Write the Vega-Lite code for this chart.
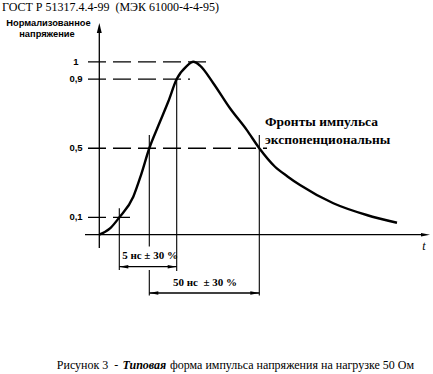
{
  "$schema": "https://vega.github.io/schema/vega-lite/v6.json",
  "width": 433,
  "height": 374,
  "autosize": "none",
  "padding": 0,
  "background": "white",
  "config": {"view": {"stroke": null}},
  "datasets": {
    "curve": [
      {"t": 0, "v": 0}, {"t": 1.07, "v": 0.036}, {"t": 2.0, "v": 0.1}, {"t": 3.4, "v": 0.22},
      {"t": 4.17, "v": 0.345}, {"t": 5.0, "v": 0.5}, {"t": 5.9, "v": 0.63}, {"t": 6.9, "v": 0.77},
      {"t": 7.74, "v": 0.9}, {"t": 8.74, "v": 0.975}, {"t": 9.4, "v": 1.0}, {"t": 10.07, "v": 0.978},
      {"t": 11.4, "v": 0.876}, {"t": 13.07, "v": 0.731}, {"t": 14.74, "v": 0.606}, {"t": 16.0, "v": 0.5},
      {"t": 17.57, "v": 0.393}, {"t": 18.82, "v": 0.337}, {"t": 20.07, "v": 0.287}, {"t": 23.4, "v": 0.182},
      {"t": 26.74, "v": 0.114}, {"t": 29.77, "v": 0.069}
    ],
    "axes": [
      {"t": 0, "t2": 0, "v": -0.077, "v2": 1.184},
      {"t": -1.43, "t2": 32.4, "v": 0, "v2": 0}
    ],
    "dashed": [
      {"t": -1.13, "t2": 11.07, "v": 1},
      {"t": -1.13, "t2": 9.07, "v": 0.9},
      {"t": -1.13, "t2": 16.77, "v": 0.5},
      {"t": -1.13, "t2": 3.07, "v": 0.1}
    ],
    "verticals": [
      {"t": 2.0, "v": 0.1527, "v2": -0.2042},
      {"t": 5.0, "v": 0.5766, "v2": -0.0682},
      {"t": 5.0, "v": -0.2042, "v2": -0.3516},
      {"t": 7.74, "v": 0.9063, "v2": -0.21},
      {"t": 16.0, "v": 0.5766, "v2": -0.3516}
    ],
    "dims": [
      {"t": 2.0, "t2": 7.74, "v": -0.1851},
      {"t": 5.0, "t2": 16.0, "v": -0.3372}
    ],
    "heads": [
      {"t": 0, "v": 1.2244, "dir": "U"},
      {"t": 33.07, "v": 0, "dir": "R"},
      {"t": 2.0, "v": -0.1851, "dir": "L"},
      {"t": 7.74, "v": -0.1851, "dir": "R"},
      {"t": 5.0, "v": -0.3372, "dir": "L"},
      {"t": 16.0, "v": -0.3372, "dir": "R"}
    ],
    "ylabels": [
      {"t": -2.33, "v": 1, "label": "1"},
      {"t": -2.33, "v": 0.9, "label": "0,9"},
      {"t": -2.33, "v": 0.5, "label": "0,5"},
      {"t": -2.33, "v": 0.1, "label": "0,1"}
    ],
    "ytitle": [
      {"t": -5.08, "v": 1.2227, "label": "Нормализованное"},
      {"t": -5.23, "v": 1.1620, "label": "напряжение"}
    ],
    "header": [
      {"t": -9.73, "v": 1.3169, "label": "ГОСТ Р 51317.4.4-99\u00a0\u00a0(МЭК 61000-4-4-95)"}
    ],
    "note": [
      {"t": 16.57, "v": 0.6536, "label": "Фронты импульса"},
      {"t": 16.57, "v": 0.5465, "label": "экспоненциональны"}
    ],
    "dimtext": [
      {"t": 5.07, "v": -0.1261, "label": "5 нс ± 30 %"},
      {"t": 10.57, "v": -0.2822, "label": "50 нс\u00a0\u00a0± 30 %"}
    ],
    "tlabel": [
      {"t": 32.47, "v": -0.0654, "label": "t"}
    ],
    "cap1": [
      {"t": 1.9, "v": -0.7536, "label": "Рисунок 3\u00a0\u00a0-"}
    ],
    "cap2": [
      {"t": 6.7, "v": -0.7536, "label": "Типовая"}
    ],
    "cap3": [
      {"t": 7.07, "v": -0.7536, "label": "форма импульса напряжения на нагрузке 50 Ом"}
    ]
  },
  "layer": [
    {
      "data": {"name": "axes"},
      "mark": {"type": "rule", "color": "black", "strokeWidth": 1.3},
      "encoding": {
        "x": {"field": "t", "type": "quantitative", "scale": {"domain": [-9.93, 33.37], "nice": false, "zero": false}, "axis": null},
        "x2": {"field": "t2"},
        "y": {"field": "v", "type": "quantitative", "scale": {"domain": [-0.8057, 1.3574], "nice": false, "zero": false}, "axis": null},
        "y2": {"field": "v2"}
      }
    },
    {
      "data": {"name": "dashed"},
      "mark": {"type": "rule", "color": "black", "strokeWidth": 1.3, "strokeDash": [18, 7]},
      "encoding": {
        "x": {"field": "t", "type": "quantitative"},
        "x2": {"field": "t2"},
        "y": {"field": "v", "type": "quantitative"}
      }
    },
    {
      "data": {"name": "verticals"},
      "mark": {"type": "rule", "color": "black", "strokeWidth": 1.1},
      "encoding": {
        "x": {"field": "t", "type": "quantitative"},
        "y": {"field": "v", "type": "quantitative"},
        "y2": {"field": "v2"}
      }
    },
    {
      "data": {"name": "dims"},
      "mark": {"type": "rule", "color": "black", "strokeWidth": 1.3},
      "encoding": {
        "x": {"field": "t", "type": "quantitative"},
        "x2": {"field": "t2"},
        "y": {"field": "v", "type": "quantitative"}
      }
    },
    {
      "data": {"name": "heads"},
      "mark": {"type": "point", "filled": true, "color": "black", "opacity": 1, "size": 81, "strokeWidth": 0},
      "encoding": {
        "x": {"field": "t", "type": "quantitative"},
        "y": {"field": "v", "type": "quantitative"},
        "shape": {"field": "dir", "type": "nominal", "legend": null,
          "scale": {"domain": ["U", "R", "L"], "range": ["M0,0L-0.55,2.2L0.55,2.2Z", "M0,0L-2,-0.38L-2,0.38Z", "M0,0L2,-0.38L2,0.38Z"]}}
      }
    },
    {
      "data": {"name": "curve"},
      "mark": {"type": "line", "color": "black", "strokeWidth": 2.4, "interpolate": "monotone"},
      "encoding": {
        "x": {"field": "t", "type": "quantitative"},
        "y": {"field": "v", "type": "quantitative"}
      }
    },
    {
      "data": {"name": "ylabels"},
      "mark": {"type": "text", "font": "Liberation Sans", "fontSize": 9.5, "fontWeight": "bold", "align": "center", "baseline": "middle", "color": "black"},
      "encoding": {
        "x": {"field": "t", "type": "quantitative"},
        "y": {"field": "v", "type": "quantitative"},
        "text": {"field": "label"}
      }
    },
    {
      "data": {"name": "ytitle"},
      "mark": {"type": "text", "font": "Liberation Sans", "fontSize": 9.3, "fontWeight": "bold", "align": "center", "baseline": "middle", "color": "black"},
      "encoding": {
        "x": {"field": "t", "type": "quantitative"},
        "y": {"field": "v", "type": "quantitative"},
        "text": {"field": "label"}
      }
    },
    {
      "data": {"name": "header"},
      "mark": {"type": "text", "font": "Liberation Serif", "fontSize": 12, "align": "left", "baseline": "middle", "color": "black"},
      "encoding": {
        "x": {"field": "t", "type": "quantitative"},
        "y": {"field": "v", "type": "quantitative"},
        "text": {"field": "label"}
      }
    },
    {
      "data": {"name": "note"},
      "mark": {"type": "text", "font": "Liberation Serif", "fontSize": 13.5, "fontWeight": "bold", "align": "left", "baseline": "middle", "color": "black"},
      "encoding": {
        "x": {"field": "t", "type": "quantitative"},
        "y": {"field": "v", "type": "quantitative"},
        "text": {"field": "label"}
      }
    },
    {
      "data": {"name": "dimtext"},
      "mark": {"type": "text", "font": "Liberation Serif", "fontSize": 11, "fontWeight": "bold", "align": "center", "baseline": "middle", "color": "black"},
      "encoding": {
        "x": {"field": "t", "type": "quantitative"},
        "y": {"field": "v", "type": "quantitative"},
        "text": {"field": "label"}
      }
    },
    {
      "data": {"name": "tlabel"},
      "mark": {"type": "text", "font": "Liberation Serif", "fontSize": 12, "fontStyle": "italic", "align": "center", "baseline": "middle", "color": "black"},
      "encoding": {
        "x": {"field": "t", "type": "quantitative"},
        "y": {"field": "v", "type": "quantitative"},
        "text": {"field": "label"}
      }
    },
    {
      "data": {"name": "cap1"},
      "mark": {"type": "text", "font": "Liberation Serif", "fontSize": 12, "align": "right", "baseline": "middle", "color": "black"},
      "encoding": {
        "x": {"field": "t", "type": "quantitative"},
        "y": {"field": "v", "type": "quantitative"},
        "text": {"field": "label"}
      }
    },
    {
      "data": {"name": "cap2"},
      "mark": {"type": "text", "font": "Liberation Serif", "fontSize": 12, "fontWeight": "bold", "fontStyle": "italic", "align": "right", "baseline": "middle", "color": "black"},
      "encoding": {
        "x": {"field": "t", "type": "quantitative"},
        "y": {"field": "v", "type": "quantitative"},
        "text": {"field": "label"}
      }
    },
    {
      "data": {"name": "cap3"},
      "mark": {"type": "text", "font": "Liberation Serif", "fontSize": 12, "align": "left", "baseline": "middle", "color": "black"},
      "encoding": {
        "x": {"field": "t", "type": "quantitative"},
        "y": {"field": "v", "type": "quantitative"},
        "text": {"field": "label"}
      }
    }
  ]
}
